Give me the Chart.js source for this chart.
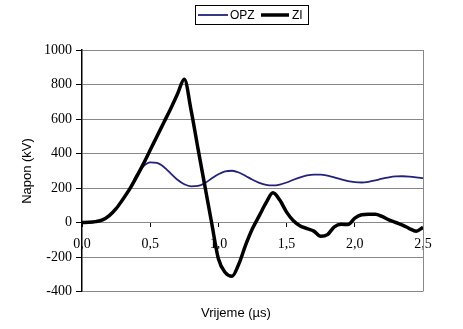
<!DOCTYPE html>
<html>
<head>
<meta charset="utf-8">
<script src="https://cdn.jsdelivr.net/npm/chart.js@4"></script>
<style>
  html, body { margin: 0; padding: 0; background: #fff; }
  #wrap { width: 463px; height: 329px; }
</style>
</head>
<body>
<div id="wrap"><canvas id="chart" width="463" height="329"></canvas></div>
<script>
// time in microseconds
const time = [0, 0.05, 0.1, 0.15, 0.2, 0.25, 0.3, 0.35, 0.4, 0.45,
    0.5, 0.55, 0.6, 0.65, 0.7, 0.75, 0.8, 0.85, 0.9, 0.95,
    1.0, 1.05, 1.1, 1.15, 1.2, 1.25, 1.3, 1.35, 1.4, 1.45,
    1.5, 1.55, 1.6, 1.65, 1.7, 1.75, 1.8, 1.85, 1.9, 1.95,
    2.0, 2.05, 2.1, 2.15, 2.2, 2.25, 2.3, 2.35, 2.4, 2.45, 2.5];

// voltage in kV
const opz = [0, 1, 5, 15, 40, 80, 135, 195, 275, 325,
    348, 345, 322, 285, 248, 222, 210, 212, 228, 255,
    280, 297, 300, 290, 270, 248, 230, 218, 215, 220,
    232, 248, 262, 273, 278, 278, 272, 262, 250, 240,
    234, 232, 236, 244, 254, 262, 267, 268, 266, 262, 257];

const zi = [0, 1, 5, 15, 40, 80, 135, 195, 265, 340,
    420, 500, 580, 660, 745, 830, 650, 430, 215, 0,
    -210, -290, -312, -240, -130, -35, 40, 115, 172, 130,
    60, 10, -20, -35, -50, -80, -70, -25, -10, -12,
    25, 45, 48, 48, 35, 15, 0, -15, -35, -50, -28];

const seriesNames = ['OPZ', 'ZI'];
const xTicks = [0, 0.5, 1.0, 1.5, 2.0, 2.5];
const yTicks = [-400, -200, 0, 200, 400, 600, 800, 1000];

const blue = '#22227a';

function points(ys) {
    return time.map((t, i) => ({ x: t, y: ys[i] }));
}

// legend box, titles and right border drawn by hand
const extras = {
    id: 'extras',
    afterDraw(chart) {
        const ctx = chart.ctx;
        const a = chart.chartArea;
        ctx.save();

        ctx.strokeStyle = '#888';
        ctx.lineWidth = 1;
        ctx.beginPath();
        ctx.moveTo(a.right + 0.5, a.top);
        ctx.lineTo(a.right + 0.5, a.bottom);
        ctx.stroke();

        // legend
        ctx.strokeStyle = '#000';
        ctx.lineWidth = 1;
        ctx.strokeRect(195.5, 5.5, 113, 19);
        ctx.font = '12px "Liberation Sans", Arial, sans-serif';
        ctx.textBaseline = 'middle';
        ctx.fillStyle = '#000';
        ctx.strokeStyle = blue;
        ctx.lineWidth = 1.8;
        ctx.beginPath(); ctx.moveTo(198, 15); ctx.lineTo(228, 15); ctx.stroke();
        ctx.fillText(seriesNames[0], 230, 15.5);
        ctx.strokeStyle = '#000';
        ctx.lineWidth = 3.5;
        ctx.beginPath(); ctx.moveTo(261, 15); ctx.lineTo(289, 15); ctx.stroke();
        ctx.fillText(seriesNames[1], 292, 15.5);

        // axis titles
        ctx.font = '13px "Liberation Sans", Arial, sans-serif';
        ctx.textAlign = 'center';
        ctx.fillText('Vrijeme (\u00b5s)', 236, 313);
        ctx.translate(27, 171);
        ctx.rotate(-Math.PI / 2);
        ctx.fillText('Napon (kV)', 0, 0);
        ctx.restore();
    }
};

new Chart(document.getElementById('chart'), {
    type: 'line',
    data: {
        datasets: [{
            label: seriesNames[1],
            data: points(zi),
            borderColor: '#000',
            borderWidth: 3.5,
            pointRadius: 0,
            cubicInterpolationMode: 'monotone'
        }, {
            label: seriesNames[0],
            data: points(opz),
            borderColor: blue,
            borderWidth: 1.8,
            pointRadius: 0,
            cubicInterpolationMode: 'monotone'
        }]
    },
    options: {
        responsive: false,
        animation: false,
        layout: { padding: { left: 0, right: 40, top: 50, bottom: 37.5 } },
        plugins: {
            legend: { display: false },
            tooltip: { enabled: false }
        },
        scales: {
            x: {
                type: 'linear',
                position: { y: 0 },
                min: 0,
                max: 2.5,
                afterBuildTicks: (scale) => { scale.ticks = xTicks.map(v => ({ value: v })); },
                ticks: {
                    color: '#000',
                    font: { family: '"Liberation Serif", "Times New Roman", serif', size: 14 },
                    padding: 9,
                    maxRotation: 0,
                    callback: (v) => v.toFixed(1).replace('.', ',')
                },
                grid: { drawOnChartArea: false, drawTicks: true, tickLength: 4, tickColor: '#000' },
                border: { color: '#888', width: 1 }
            },
            y: {
                min: -400,
                max: 1000,
                afterBuildTicks: (scale) => { scale.ticks = yTicks.map(v => ({ value: v })); },
                afterFit: (scale) => { scale.width = 82; },
                ticks: {
                    color: '#000',
                    font: { family: '"Liberation Serif", "Times New Roman", serif', size: 14 },
                    padding: 4,
                    callback: (v) => String(v)
                },
                grid: { color: '#888', lineWidth: 1, tickLength: 6, tickColor: '#000' },
                border: { color: '#000', width: 1.5 }
            }
        }
    },
    plugins: [extras]
});
</script>
</body>
</html>
